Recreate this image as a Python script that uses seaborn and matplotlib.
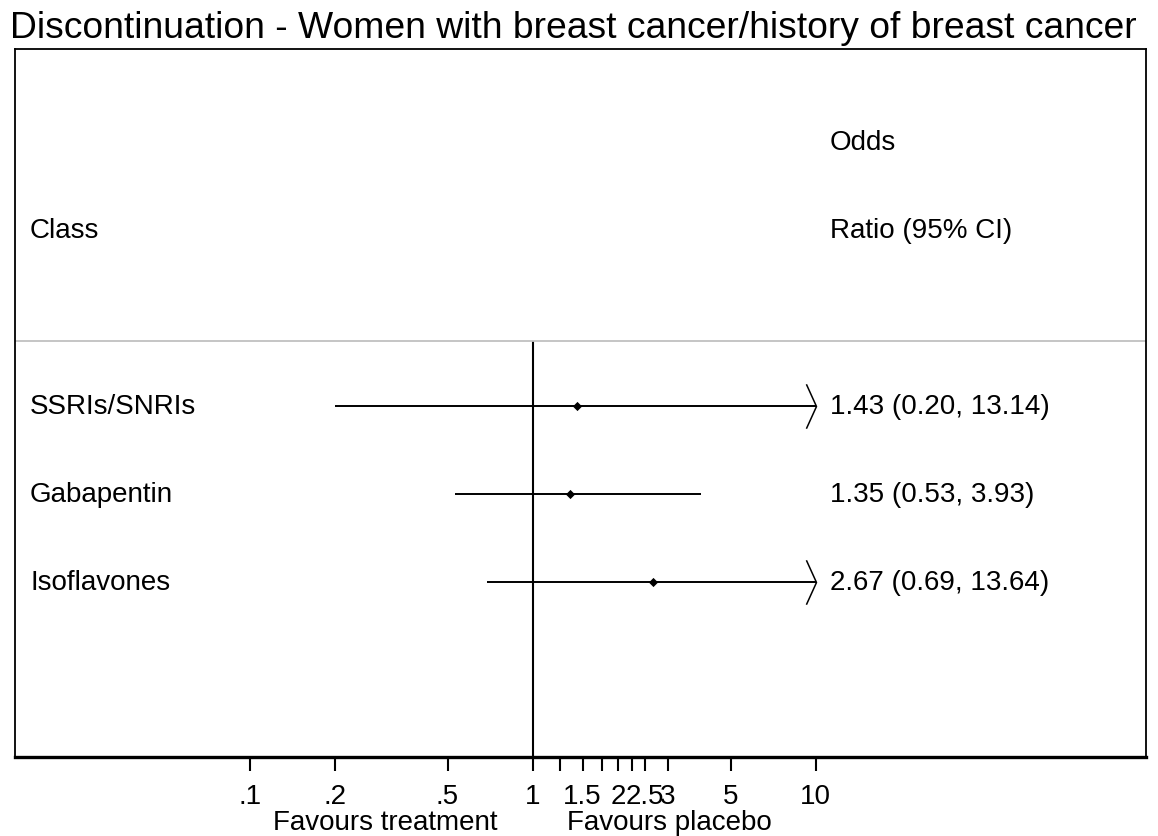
import numpy as np
import pandas as pd
import matplotlib
matplotlib.use('Agg')
import matplotlib.pyplot as plt
import matplotlib.transforms as mtransforms
from matplotlib.path import Path
from matplotlib.ticker import NullLocator
import seaborn as sns

# Data
classes = ['SSRIs/SNRIs', 'Gabapentin', 'Isoflavones']
odds_ratio = [1.43, 1.35, 2.67]
ci_low = [0.20, 0.53, 0.69]
ci_high = [13.14, 3.93, 13.64]
tick_values = [0.1, 0.2, 0.5, 1, 1.25, 1.5, 1.75, 2, 2.25, 2.5, 3, 5, 10]
tick_labels = ['.1', '.2', '.5', '1', '', '1.5', '', '2', '', '2.5', '3', '5', '10']
x_clip = 10  # CIs beyond this get an arrow

df = pd.DataFrame({'cls': classes, 'or': odds_ratio, 'lo': ci_low, 'hi': ci_high})
df['row'] = np.arange(1, len(df) + 1)
df['hi_draw'] = df['hi'].clip(upper=x_clip)
df['label'] = [f"{o:.2f} ({l:.2f}, {h:.2f})" for o, l, h in zip(df['or'], df['lo'], df['hi'])]

sns.set_style('white')
plt.rcParams['font.family'] = ['Liberation Sans', 'DejaVu Sans']
plt.rcParams['text.color'] = 'black'
plt.rcParams['xtick.color'] = 'black'
plt.rcParams['xtick.labelcolor'] = 'black'

fig = plt.figure(figsize=(11.58, 8.37), dpi=100)
ax = fig.add_axes([15 / 1158, 1 - 758 / 837, 1131 / 1158, 708 / 837])

ax.set_xscale('log')
ax.set_xlim(0.0148, 147)
ax.set_ylim(4.99, -3.06)

# confidence intervals
ax.hlines(df['row'], df['lo'], df['hi_draw'], color='black', linewidth=1.4, zorder=2)

# open arrowheads for clipped intervals
arrow = Path([(-1, 2.2), (0, 0), (-1, -2.2)], [Path.MOVETO, Path.LINETO, Path.LINETO])
clipped = df[df['hi'] > x_clip]
ax.plot(clipped['hi_draw'], clipped['row'], linestyle='none', marker=arrow,
        markersize=32, markerfacecolor='none', markeredgecolor='black',
        markeredgewidth=1.1, zorder=3)

# point estimates
sns.scatterplot(data=df, x='or', y='row', marker='D', s=22, color='black',
                linewidth=0, ax=ax, zorder=4, legend=False)

# null line and header separator
ax.vlines(1, 0.26, 4.99, color='black', linewidth=1.5, zorder=1)
ax.axhline(0.26, color='#c0c0c0', linewidth=1.3, zorder=1)

# text columns
fs = 20
tr = mtransforms.blended_transform_factory(ax.transAxes, ax.transData)
ax.text(0.0133, -1, 'Class', transform=tr, fontsize=fs, va='center', ha='left')
ax.text(0.7206, -2, 'Odds', transform=tr, fontsize=fs, va='center', ha='left')
ax.text(0.7206, -1, 'Ratio (95% CI)', transform=tr, fontsize=fs, va='center', ha='left')
for _, r in df.iterrows():
    ax.text(0.0133, r['row'], r['cls'], transform=tr, fontsize=fs, va='center', ha='left')
    ax.text(0.7206, r['row'], r['label'], transform=tr, fontsize=fs, va='center', ha='left')

# x axis
ax.set_xticks(tick_values)
ax.set_xticklabels(tick_labels, fontsize=fs)
ax.xaxis.set_minor_locator(NullLocator())
ax.tick_params(axis='x', direction='out', length=10, width=1.5, pad=9, bottom=True,
               colors='black')
ax.set_yticks([])
ax.set_xlabel('')
ax.set_ylabel('')

for side in ['left', 'top', 'right']:
    ax.spines[side].set_linewidth(1.3)
    ax.spines[side].set_color('black')
ax.spines['bottom'].set_linewidth(2.4)
ax.spines['bottom'].set_color('black')

ftr = mtransforms.blended_transform_factory(ax.transData, fig.transFigure)
ax.text(0.3, 1 - 823 / 837, 'Favours treatment', transform=ftr, fontsize=fs,
        ha='center', va='center')
ax.text(3.05, 1 - 823 / 837, 'Favours placebo', transform=ftr, fontsize=fs,
        ha='center', va='center')

fig.text(10 / 1158, 1 - 28 / 837,
         'Discontinuation - Women with breast cancer/history of breast cancer',
         fontsize=26.8, ha='left', va='center')

fig.savefig('out.png', dpi=100)
